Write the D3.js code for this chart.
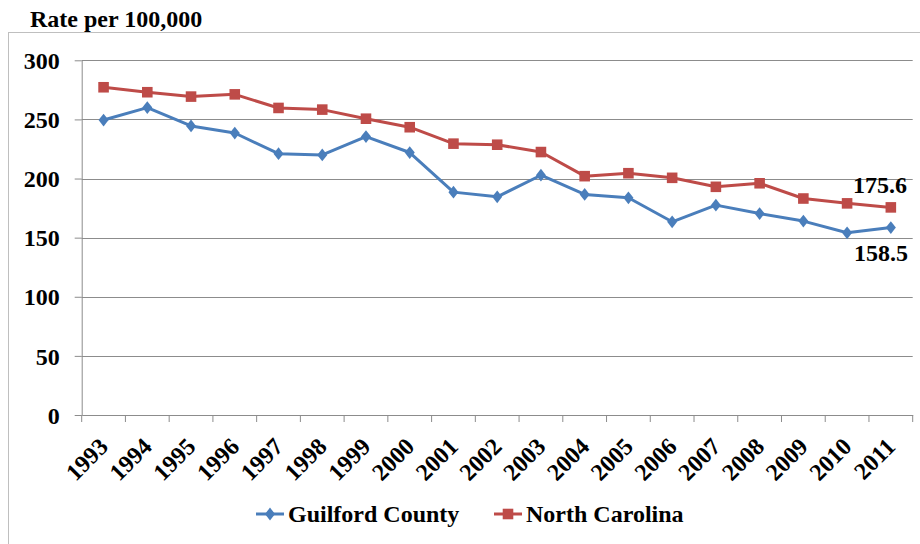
<!DOCTYPE html>
<html><head><meta charset="utf-8">
<script src="https://cdn.jsdelivr.net/npm/d3@7"></script>
<style>body{margin:0;background:#fff}svg{display:block}</style>
</head><body><svg id="c" width="920" height="544"></svg>
<script>
const years = ["1993","1994","1995","1996","1997","1998","1999","2000","2001","2002","2003","2004","2005","2006","2007","2008","2009","2010","2011"];
const guilford = [249.5,260,244.5,238.5,221,220,235.5,222,188.5,184.5,202.8,186.5,183.7,163.4,177.5,170.4,164,154.1,158.5];
const northCarolina = [277.2,273,269.3,271.2,259.7,258.3,250.6,243.4,229.5,228.6,222.4,202,204.5,200.6,193,196,183.1,179,175.6];
const yTicks = [0,50,100,150,200,250,300];
const seriesNames = ["Guilford County","North Carolina"];
const colors = ["#4A7EBB","#BE4B48"];
const FONT = "Liberation Serif";

const svg = d3.select("#c");
const L = 81.7, R = 912.7, T = 60.3, B = 415;
const x = d3.scaleBand().domain(years).range([L, R]);
const y = d3.scaleLinear().domain([0,300]).range([B, T]);

svg.append("rect").attr("x",8.5).attr("y",32.5).attr("width",1000).attr("height",600)
  .attr("fill","none").attr("stroke","#BFBFBF").attr("stroke-width",1);

svg.append("text").attr("x",30).attr("y",27).attr("font-family",FONT).attr("font-weight","bold")
  .attr("font-size",24).text("Rate per 100,000");

svg.append("g").selectAll("line").data(yTicks.filter(d=>d>0)).join("line")
  .attr("x1",L).attr("x2",R).attr("y1",d=>Math.round(y(d))+0.5).attr("y2",d=>Math.round(y(d))+0.5)
  .attr("stroke","#8C8C8C").attr("stroke-width",1);

const yAxis = svg.append("g").attr("transform",`translate(${L},0)`)
  .call(d3.axisLeft(y).tickValues(yTicks).tickSize(7).tickSizeOuter(0).tickPadding(15).tickFormat(d3.format("d")));
yAxis.select(".domain").attr("stroke","#8C8C8C");
yAxis.selectAll(".tick line").attr("stroke","#8C8C8C");
yAxis.selectAll("text").attr("dy","0.34em").attr("font-family",FONT).attr("font-weight","bold").attr("font-size",24);

const xAxis = svg.append("g").attr("transform",`translate(0,${B})`)
  .call(d3.axisBottom(x).tickSize(0).tickSizeOuter(0).tickPadding(0));
xAxis.select(".domain").attr("stroke","#8C8C8C");
xAxis.selectAll(".tick line").remove();
xAxis.selectAll("text").attr("text-anchor","end").attr("dy",0).attr("y",0)
  .attr("font-family",FONT).attr("font-weight","bold").attr("font-size",24)
  .attr("transform","translate(6,33) rotate(-45)");
svg.append("g").selectAll("line").data(years.concat(["end"])).join("line")
  .attr("x1",(d,i)=>L+i*x.bandwidth()).attr("x2",(d,i)=>L+i*x.bandwidth())
  .attr("y1",B).attr("y2",B+7).attr("stroke","#8C8C8C");

const line = d3.line().x((d,i)=>x(years[i])+x.bandwidth()/2).y(d=>y(d));
[guilford, northCarolina].forEach((s,k)=>{
  svg.append("path").datum(s).attr("d",line).attr("fill","none")
    .attr("stroke",colors[k]).attr("stroke-width",3).attr("stroke-linejoin","round");
});
const diamond = d3.symbol().type(d3.symbolDiamond).size(52);
const square = d3.symbol().type(d3.symbolSquare).size(112);
const dScale = "scale(1.3,0.95)";
svg.append("g").selectAll("path").data(guilford).join("path")
  .attr("d",diamond).attr("fill",colors[0])
  .attr("transform",(d,i)=>`translate(${x(years[i])+x.bandwidth()/2},${y(d)}) ${dScale}`);
svg.append("g").selectAll("path").data(northCarolina).join("path")
  .attr("d",square).attr("fill",colors[1])
  .attr("transform",(d,i)=>`translate(${x(years[i])+x.bandwidth()/2},${y(d)})`);

const last = years.length-1;
svg.append("text").attr("x",907).attr("y",y(northCarolina[last])-14).attr("text-anchor","end")
  .attr("font-family",FONT).attr("font-weight","bold").attr("font-size",24).text(northCarolina[last].toFixed(1));
svg.append("text").attr("x",908).attr("y",y(guilford[last])+33).attr("text-anchor","end")
  .attr("font-family",FONT).attr("font-weight","bold").attr("font-size",24).text(guilford[last].toFixed(1));

const leg = [256,494];
seriesNames.forEach((n,k)=>{
  const g = svg.append("g").attr("transform",`translate(${leg[k]},514)`);
  g.append("line").attr("x1",0).attr("x2",28).attr("stroke",colors[k]).attr("stroke-width",3);
  g.append("path").attr("d",k===0?diamond:square).attr("fill",colors[k])
    .attr("transform",k===0?`translate(14,0) ${dScale}`:"translate(14,0)");
  g.append("text").attr("x",32).attr("y",8).attr("font-family",FONT).attr("font-weight","bold")
    .attr("font-size",24).text(n);
});
</script></body></html>
